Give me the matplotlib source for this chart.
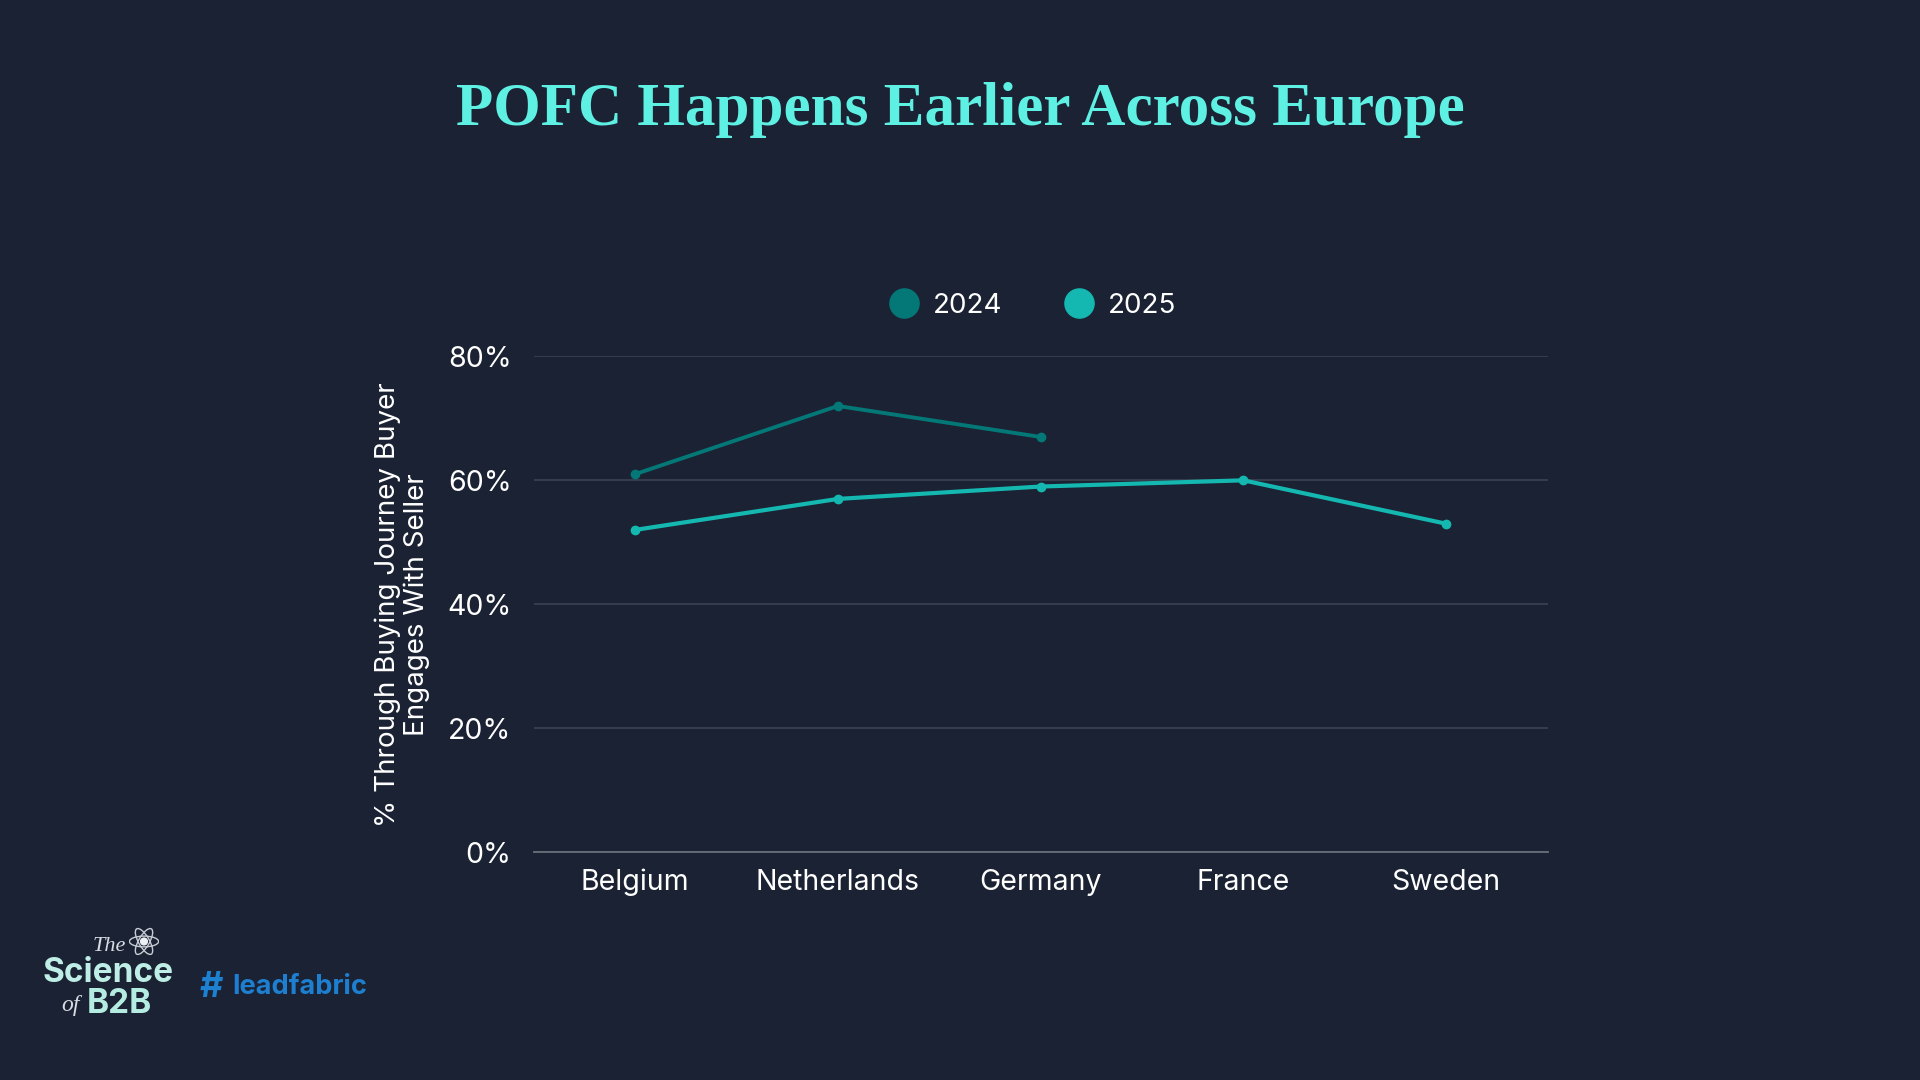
import matplotlib.pyplot as plt
from matplotlib.lines import Line2D
from matplotlib.patches import Ellipse, Circle
import numpy as np

countries = ['Belgium', 'Netherlands', 'Germany', 'France', 'Sweden']
vals_2024 = [61, 72, 67]
vals_2025 = [52, 57, 59, 60, 53]
y_ticks = [0, 20, 40, 60, 80]
y_tick_labels = ['0%', '20%', '40%', '60%', '80%']

bg = '#1a2233'
c2024 = '#037876'
c2025 = '#14b8b0'
title_col = '#5ef0e3'

plt.rcParams['font.family'] = ['Inter', 'DejaVu Sans']

fig = plt.figure(figsize=(19.2, 10.8), dpi=100, facecolor=bg)
ax = fig.add_axes([0.278, 0.211, 0.528, 0.459])
ax.set_facecolor(bg)

x = np.arange(len(countries))
ax.plot(x[:len(vals_2024)], vals_2024, color=c2024, lw=2.8, marker='o', ms=6, zorder=3)
ax.plot(x, vals_2025, color=c2025, lw=3.0, marker='o', ms=6, zorder=3)

ax.set_xlim(-0.5, 4.5)
ax.set_ylim(0, 80)
ax.set_yticks(y_ticks)
ax.set_yticklabels(y_tick_labels)
ax.set_xticks(x)
ax.set_xticklabels(countries)
ax.tick_params(axis='both', colors='white', labelsize=20.5, length=0)
ax.tick_params(axis='x', pad=12)
ax.tick_params(axis='y', pad=16)

ax.grid(axis='y', color='#3b4352', lw=1.2)
ax.grid(axis='x', visible=False)
ax.set_axisbelow(True)
for s in ['top', 'right', 'left']:
    ax.spines[s].set_visible(False)
ax.spines['bottom'].set_color('#6a707a')
ax.spines['bottom'].set_linewidth(1.3)

ax.set_ylabel('% Through Buying Journey Buyer\nEngages With Seller', color='white',
              fontsize=20, labelpad=12, linespacing=1.15)

handles = [Line2D([], [], ls='none', marker='o', ms=21, color=c2024, label='2024'),
           Line2D([], [], ls='none', marker='o', ms=21, color=c2025, label='2025')]
fig.legend(handles=handles, loc='center', bbox_to_anchor=(0.538, 0.717), ncol=2,
           frameon=False, fontsize=20, handletextpad=0.55, handlelength=1.0,
           columnspacing=2.25, labelcolor='white')

fig.text(0.5, 0.898, 'POFC Happens Earlier Across Europe', ha='center', va='center',
         color=title_col, fontsize=44, fontweight='bold', family='Liberation Serif')

# logo block
fig.text(0.048, 0.124, 'The', color='#d8dde3', fontsize=16, style='italic',
         family='Liberation Serif', ha='left', va='center')
fig.text(0.022, 0.099, 'Science', color='#bfeee6', fontsize=24, fontweight='bold',
         ha='left', va='center')
fig.text(0.032, 0.069, 'of', color='#d8dde3', fontsize=17, style='italic',
         family='Liberation Serif', ha='left', va='center')
fig.text(0.045, 0.070, 'B2B', color='#b5ece2', fontsize=24, fontweight='bold',
         ha='left', va='center')
fig.text(0.104, 0.086, '#', color='#1e80d0', fontsize=26, fontweight='bold',
         ha='left', va='center')
fig.text(0.121, 0.086, 'leadfabric', color='#1e7fd0', fontsize=19.5, fontweight='bold',
         ha='left', va='center')

# atom icon
atom = fig.add_axes([0.067, 0.114, 0.016, 0.0285])
atom.set_xlim(-1, 1)
atom.set_ylim(-1, 1)
atom.axis('off')
for ang in [0, 60, 120]:
    atom.add_patch(Ellipse((0, 0), 1.9, 0.7, angle=ang, fill=False, ec='#c8cdd4', lw=1.0))
atom.add_patch(Circle((0, 0), 0.22, color='#eef1f4'))

fig.savefig('out.png', dpi=100, facecolor=bg)
